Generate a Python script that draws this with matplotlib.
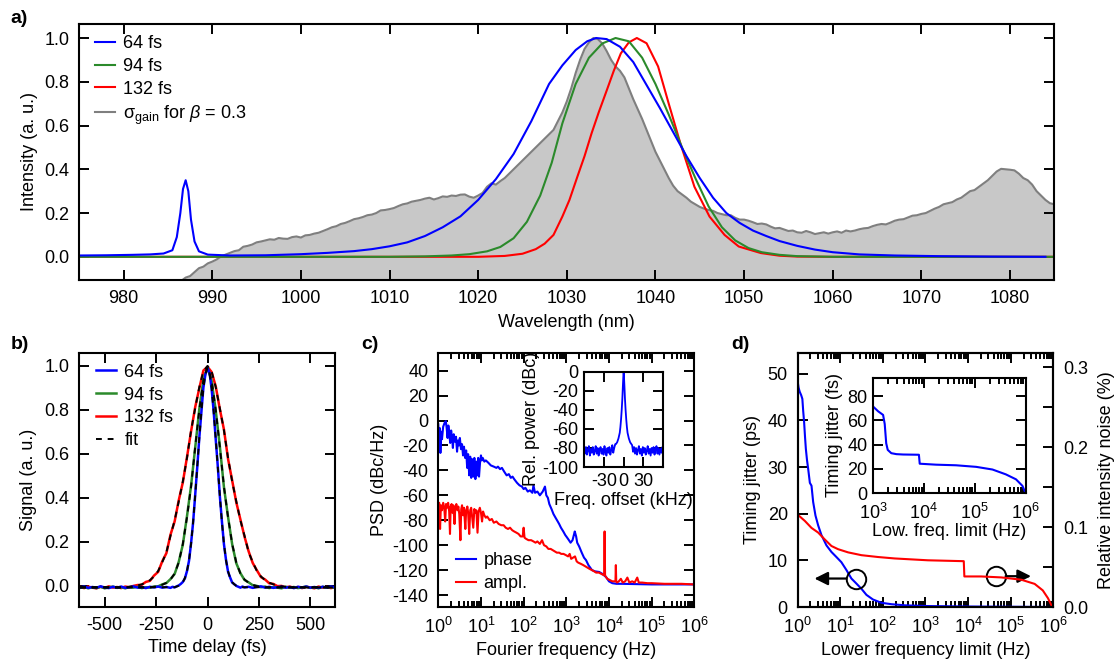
import numpy as np
import matplotlib
matplotlib.use("Agg")
import matplotlib.pyplot as plt
from matplotlib.ticker import MultipleLocator, LogLocator, NullFormatter, FixedLocator

plt.rcParams['font.family'] = ['Liberation Sans', 'DejaVu Sans']
plt.rcParams['mathtext.fontset'] = 'custom'
plt.rcParams['mathtext.rm'] = 'Liberation Sans'
plt.rcParams['mathtext.it'] = 'Liberation Sans:italic'
plt.rcParams['mathtext.bf'] = 'Liberation Sans:bold'
plt.rcParams['axes.unicode_minus'] = False

# ---------------- panel a data ----------------
# gain cross-section sampled every 0.5 nm from 986.5 nm to 1085 nm
gain_wl = [round(986.5 + 0.5 * i, 1) for i in range(198)]
gain_val = [-0.11, -0.095, -0.088, -0.07, -0.052, -0.045, -0.03, -0.022, -0.012, 0.002,
            0.01, 0.018, 0.026, 0.03, 0.046, 0.05, 0.056, 0.066, 0.07, 0.075,
            0.08, 0.078, 0.086, 0.083, 0.082, 0.09, 0.093, 0.088, 0.098, 0.1,
            0.106, 0.11, 0.118, 0.126, 0.135, 0.14, 0.15, 0.155, 0.163, 0.172,
            0.176, 0.182, 0.19, 0.193, 0.2, 0.212, 0.214, 0.218, 0.223, 0.232,
            0.24, 0.244, 0.252, 0.256, 0.26, 0.266, 0.27, 0.262, 0.268, 0.276,
            0.274, 0.28, 0.278, 0.284, 0.285, 0.275, 0.27, 0.28, 0.292, 0.32,
            0.336, 0.33, 0.346, 0.36, 0.38, 0.4, 0.42, 0.44, 0.46, 0.48,
            0.5, 0.52, 0.54, 0.56, 0.58, 0.62, 0.66, 0.71, 0.77, 0.84,
            0.9, 0.95, 0.98, 1.0, 0.995, 0.975, 0.94, 0.9, 0.87, 0.85,
            0.82, 0.77, 0.72, 0.675, 0.63, 0.58, 0.53, 0.48, 0.44, 0.4,
            0.36, 0.325, 0.3, 0.285, 0.27, 0.252, 0.24, 0.228, 0.22, 0.214,
            0.21, 0.2, 0.195, 0.19, 0.19, 0.178, 0.17, 0.17, 0.165, 0.158,
            0.15, 0.152, 0.148, 0.138, 0.13, 0.132, 0.125, 0.118, 0.12, 0.112,
            0.11, 0.118, 0.112, 0.104, 0.108, 0.112, 0.106, 0.112, 0.116, 0.11,
            0.12, 0.116, 0.12, 0.126, 0.13, 0.132, 0.14, 0.146, 0.15, 0.148,
            0.156, 0.165, 0.17, 0.172, 0.18, 0.188, 0.19, 0.196, 0.2, 0.21,
            0.22, 0.228, 0.24, 0.245, 0.25, 0.262, 0.27, 0.285, 0.3, 0.305,
            0.32, 0.335, 0.35, 0.37, 0.39, 0.402, 0.4, 0.398, 0.395, 0.38,
            0.36, 0.35, 0.33, 0.3, 0.28, 0.26, 0.245, 0.24]

s64_wl = [975, 978, 981, 983, 984.5, 985.5, 986.0, 986.4, 986.7, 987.0, 987.3, 987.6, 988.0,
          988.5, 989.5, 992, 996, 1000, 1003, 1006, 1008, 1010, 1012, 1014, 1016, 1018, 1020,
          1022, 1024, 1026, 1028, 1029.5, 1031, 1032.3, 1033.3, 1034.5, 1036, 1037.5, 1039,
          1040.5, 1042, 1043.5, 1045, 1046.5, 1048, 1049.5, 1051, 1052.5, 1054, 1056, 1058,
          1060, 1063, 1067, 1072, 1078, 1084]
s64_val = [0.006, 0.007, 0.009, 0.011, 0.015, 0.03, 0.09, 0.2, 0.31, 0.35, 0.3, 0.17, 0.07,
           0.025, 0.01, 0.006, 0.007, 0.012, 0.018, 0.026, 0.035, 0.048, 0.066, 0.095, 0.135,
           0.185, 0.26, 0.355, 0.47, 0.62, 0.79, 0.875, 0.945, 0.985, 1.0, 0.995, 0.96, 0.89,
           0.785, 0.68, 0.57, 0.46, 0.36, 0.27, 0.2, 0.155, 0.12, 0.095, 0.072, 0.05, 0.033,
           0.021, 0.011, 0.006, 0.003, 0.001, 0.0]

s94_wl = [975, 1010, 1014, 1017, 1019, 1021, 1022.5, 1024, 1025.5, 1027, 1028.3, 1029.5, 1031,
          1032.5, 1034, 1035.5, 1037, 1038.5, 1040, 1041.5, 1043, 1044.5, 1046, 1047.5, 1049,
          1050.5, 1052, 1054, 1056, 1060, 1085]
s94_val = [0.0, 0.0, 0.002, 0.006, 0.012, 0.025, 0.045, 0.085, 0.16, 0.28, 0.43, 0.61, 0.79,
           0.91, 0.975, 1.0, 0.985, 0.91, 0.79, 0.65, 0.5, 0.36, 0.23, 0.135, 0.075,
           0.04, 0.021, 0.009, 0.003, 0.0, 0.0]

s132_wl = [975, 1020, 1023, 1025, 1026.5, 1027.5, 1028.5, 1029.5, 1030.3, 1031.2, 1032, 1032.8,
           1033.6, 1034.5, 1035.3, 1036.1, 1037, 1037.9, 1039, 1040.3, 1041.5, 1042.8, 1044.4,
           1046.1, 1047.8, 1049.4, 1051.9, 1054, 1056, 1060, 1085]
s132_val = [0.0, 0.0, 0.004, 0.014, 0.035, 0.06, 0.1, 0.184, 0.26, 0.367, 0.46, 0.565,
            0.66, 0.76, 0.85, 0.93, 0.98, 1.0, 0.976, 0.87, 0.70, 0.52, 0.32,
            0.184, 0.10, 0.047, 0.017, 0.005, 0.001, 0.0, 0.0]

# ---------------- panel b data ----------------
ac132_t = list(range(-620, 621, 20))
ac132_v = [-0.006, -0.011, -0.004, -0.009, -0.012, -0.005, -0.01, -0.003, -0.009, -0.006, -0.011,
           -0.004, -0.007, -0.001, 0.003, 0.004, 0.017, 0.022, 0.046, 0.063, 0.111, 0.148, 0.232,
           0.292, 0.388, 0.47, 0.584, 0.702, 0.812, 0.898, 0.979, 0.996, 0.972, 0.907, 0.803,
           0.71, 0.576, 0.478, 0.379, 0.301, 0.223, 0.156, 0.103, 0.07, 0.039, 0.028, 0.011,
           0.008, -0.002, -0.001, -0.008, -0.004, -0.01, -0.006, -0.011, -0.005, -0.008, -0.012,
           -0.004, -0.009, -0.006, -0.011, -0.007]
ac94_t = list(range(-620, 621, 20))
ac94_v = [-0.01, -0.006, -0.012, -0.007, -0.011, -0.005, -0.012, -0.008, -0.004, -0.01, -0.007,
          -0.012, -0.006, -0.009, -0.005, -0.011, -0.007, -0.009, -0.004, -0.003, 0.006, 0.012,
          0.03, 0.053, 0.108, 0.187, 0.315, 0.455, 0.627, 0.803, 0.937, 0.993, 0.932, 0.797,
          0.634, 0.447, 0.312, 0.188, 0.102, 0.057, 0.026, 0.015, 0.002, -0.001, -0.007, -0.004,
          -0.011, -0.006, -0.009, -0.012, -0.005, -0.009, -0.006, -0.011, -0.008, -0.004, -0.01,
          -0.007, -0.012, -0.005, -0.009, -0.006, -0.01]
ac64_t = (list(range(-620, -179, 20)) + list(range(-170, 171, 10)) + list(range(180, 621, 20)))
ac64_v = [-0.008, -0.004, -0.01, -0.006, -0.009, -0.003, -0.008, -0.011, -0.005, -0.009, -0.004,
          -0.01, -0.007, -0.003, -0.009, -0.006, -0.011, -0.005, -0.008, -0.004, -0.009, -0.006,
          -0.01,
          -0.005, -0.008, -0.003, 0.001, 0.008, 0.017, 0.033, 0.066, 0.113, 0.193, 0.288, 0.412,
          0.538, 0.672, 0.788, 0.902, 0.962, 0.99, 0.968, 0.895, 0.793, 0.665, 0.543, 0.407,
          0.292, 0.188, 0.117, 0.063, 0.037, 0.014, 0.007, -0.001, -0.005, -0.009, -0.004,
          -0.008, -0.005, -0.01, -0.006, -0.003, -0.009, -0.005, -0.01, -0.007, -0.004, -0.009,
          -0.006, -0.011, -0.005, -0.008, -0.004, -0.009, -0.006, -0.01, -0.005, -0.008, -0.004,
          -0.007]

fit132_t = list(range(-620, 621, 20))
fit132_v = [-0.008, -0.008, -0.008, -0.008, -0.008, -0.008, -0.008, -0.008, -0.008, -0.008,
            -0.008, -0.007, -0.005, -0.003, 0.001, 0.006, 0.014, 0.025, 0.042, 0.067, 0.107,
            0.152, 0.227, 0.297, 0.383, 0.474, 0.58, 0.706, 0.807, 0.903, 0.975, 1.0, 0.975,
            0.903, 0.807, 0.706, 0.58, 0.474, 0.383, 0.297, 0.227, 0.152, 0.107, 0.067, 0.042,
            0.025, 0.014, 0.006, 0.001, -0.003, -0.005, -0.007, -0.008, -0.008, -0.008, -0.008,
            -0.008, -0.008, -0.008, -0.008, -0.008, -0.008, -0.008]
fit94_t = [-620, -300, -280, -260, -240, -220, -200, -180, -160, -140, -120, -100, -80, -60, -40,
           -20, 0, 20, 40, 60, 80, 100, 120, 140, 160, 180, 200, 220, 240, 260, 280, 300, 620]
fit94_v = [-0.008, -0.008, -0.008, -0.005, -0.002, 0.004, 0.013, 0.028, 0.055, 0.105, 0.19,
           0.31, 0.45, 0.63, 0.8, 0.935, 0.995, 0.935, 0.8, 0.63, 0.45, 0.31, 0.19, 0.105,
           0.055, 0.028, 0.013, 0.004, -0.002, -0.005, -0.008, -0.008, -0.008]
fit64_t = [-620, -170, -160, -150, -140, -130, -120, -110, -100, -90, -80, -70, -60, -50, -40,
           -30, -20, -10, 0, 10, 20, 30, 40, 50, 60, 70, 80, 90, 100, 110, 120, 130, 140, 150,
           160, 170, 620]
fit64_v = [-0.007, -0.007, -0.007, -0.004, 0.0, 0.006, 0.016, 0.035, 0.065, 0.115, 0.19, 0.29,
           0.41, 0.54, 0.67, 0.79, 0.9, 0.965, 0.99, 0.965, 0.9, 0.79, 0.67, 0.54, 0.41, 0.29,
           0.19, 0.115, 0.065, 0.035, 0.016, 0.006, 0.0, -0.004, -0.007, -0.007, -0.007]

# ---------------- panel c data ----------------
phase_f = [1.0, 1.04, 1.08, 1.12, 1.17, 1.22, 1.3, 1.4, 1.5, 1.57, 1.65, 1.72, 1.8, 1.9, 2.0,
           2.1, 2.2, 2.3, 2.45, 2.6, 2.75, 2.9, 3.05, 3.2, 3.4, 3.6, 3.8, 4.0, 4.25, 4.5, 4.75,
           5.0, 5.3, 5.6, 5.9, 6.2, 6.6, 7.0, 7.4, 7.8, 8.2, 8.6, 9.0, 9.5, 10, 10.5, 11, 12,
           13, 15, 17, 20, 23, 25, 28, 31, 35, 40, 45, 50, 55, 60, 70, 80, 91, 100, 110, 125,
           140, 160, 170, 185, 210, 240, 280, 316, 340, 370, 400, 450, 500, 560, 630, 680, 750,
           850, 950, 1000, 1100, 1260, 1400, 1500, 1580, 1700, 1800, 2000, 2300, 2600, 2900,
           3300, 4000, 4700, 5900, 7000, 8500, 10000, 12000, 15000, 20000, 1e5, 1e6]
phase_v = [-3, -20, -6, -26, -9, -15, -5, -2, -0.5, -6, -14, -4, -10, -18, -8,
           -14, -22, -11, -17, -13, -25, -16, -20, -14, -23, -19, -28, -21, -30, -24, -38,
           -27, -44, -29, -46, -31, -45, -30, -47, -33, -44, -30, -45, -34, -28, -32, -30, -33,
           -32, -34, -36, -37, -38, -37, -39, -38, -41, -44, -43, -46, -45, -47, -50, -52,
           -53, -55, -54, -57, -56, -58, -52, -58, -57, -60, -57, -53, -60, -62, -67, -71,
           -75, -78, -81, -83, -86, -89, -92, -93, -95, -98, -96, -92, -89, -93, -98, -101,
           -106, -110, -112, -116, -120, -121, -121.5, -123, -125.5, -129, -130.5, -131, -131,
           -131.5, -131.5]

ampl_f = [1.0, 1.05, 1.1, 1.15, 1.22, 1.3, 1.38, 1.45, 1.52, 1.6, 1.7, 1.8, 1.88, 1.95, 2.05,
          2.15, 2.25, 2.4, 2.5, 2.65, 2.8, 2.95, 3.1, 3.3, 3.45, 3.6, 3.8, 4.0, 4.3, 4.5, 4.8,
          5.0, 5.3, 5.6, 5.9, 6.2, 6.6, 7.0, 7.4, 7.8, 8.3, 8.8, 9.4, 10, 10.6, 11.2, 12, 13,
          14, 16, 18, 20, 23, 26, 30, 34, 38, 43, 48, 54, 60, 68, 76, 85, 95, 100, 105, 115,
          130, 150, 170, 190, 210, 240, 270, 300, 340, 380, 430, 480, 540, 600, 680, 760, 860,
          980, 1100, 1200, 1300, 1450, 1600, 1750, 1900, 2200, 2500, 2800, 3100, 3500, 4000,
          4500, 5000, 5800, 6600, 7500, 7700, 7900, 8100, 8300, 9200, 10500, 12000, 13500,
          14200, 14500, 14800, 15500, 17000, 19000, 21000, 24000, 27000, 30000, 35000, 40000,
          46000, 50000, 60000, 80000, 1e5, 2e5, 5e5, 1e6]
ampl_v = [-69, -66, -87, -68, -72, -66, -70, -81, -67, -70, -66, -73, -91, -69, -67,
          -74, -68, -83, -70, -67, -72, -69, -75, -96, -71, -68, -76, -70, -87, -72, -69,
          -74, -91, -72, -70, -77, -86, -71, -74, -72, -90, -73, -70, -74, -81, -73, -76, -78,
          -77, -80, -79, -82, -81, -83, -84, -84, -86, -87, -86, -88, -89, -90, -91, -93, -93,
          -86, -94, -95, -96, -96, -97, -98, -97, -99, -96, -100, -101, -103, -103, -104, -105,
          -106, -106, -107, -107, -108, -109, -107, -111, -110, -109, -113, -114, -115, -116,
          -117, -118, -119, -120, -121, -122, -122, -123, -124, -124, -89, -124, -125, -127,
          -128, -129, -129, -129, -116, -129, -130, -129, -127, -130, -129, -126, -130, -129,
          -130, -126, -130, -130, -130.5, -130.5, -131, -131, -131.5]

beat_f = [-61, -59.5, -58, -56.5, -55, -53.5, -52, -50.5, -49, -47.5, -46, -44.5, -43, -41.5,
          -40, -38.5, -37, -35.5, -34, -32.5, -31, -29.5, -28, -26.5, -25, -23.5, -22, -20.5,
          -19, -17.5, -16, -14.5, -13, -12, -10, -8, -6, -5, -4, -3, -2, -1.2, -0.5, 0, 0.5,
          1.2, 2, 3, 4, 5, 6, 8, 10, 12, 13, 14.5, 16, 17.5, 19, 20.5, 22, 23.5, 25, 26.5, 28,
          29.5, 31, 32.5, 34, 35.5, 37, 38.5, 40, 41.5, 43, 44.5, 46, 47.5, 49, 50.5, 52, 53.5,
          55, 56.5, 58, 59.5, 61]
beat_v = [-80, -86, -79, -87, -82, -78, -88, -81, -85, -79, -87, -83, -78, -86, -80, -88, -82,
          -79, -86, -81, -87, -78, -84, -88, -80, -85, -79, -87, -82, -77, -85, -80, -76, -76,
          -74, -70, -64, -58, -50, -40, -28, -15, -5, 0, -5, -15, -28, -40, -50, -58, -64, -70,
          -74, -76, -77, -84, -79, -86, -80, -87, -82, -78, -86, -81, -88, -79, -85, -80, -87,
          -83, -78, -86, -81, -88, -80, -85, -79, -87, -82, -78, -86, -80, -87, -81, -85, -79,
          -86]

# ---------------- panel d data ----------------
tj_f = [1.0, 1.06, 1.13, 1.22, 1.3, 1.36, 1.43, 1.5, 1.57, 1.67, 1.78, 1.95, 2.13, 2.33, 2.64,
        3.05, 3.65, 4.78, 6.25, 8.2, 10.7, 14.1, 18.4, 24.2, 31.6, 41.4, 59, 93, 160, 330,
        1150, 1e4, 1e5, 1e6]
tj_ps = [48.6, 47.0, 46.1, 45.4, 44.6, 42.0, 39.6, 36.5, 33.9, 31.5, 29.6, 26.6, 26.0, 22.5,
         19.6, 17.5, 15.4, 13.2, 11.8, 10.7, 9.6, 7.9, 6.1, 5.0, 3.9, 2.6, 1.6, 0.9, 0.6, 0.36,
         0.2, 0.1, 0.05, 0.0]
rin_f = [1.0, 1.49, 2.13, 3.05, 4.37, 6.25, 8.95, 15.4, 31.6, 77.6, 191, 1150, 7940, 8200,
         20400, 60000, 178000, 365000, 566000, 750000, 900000, 1e6]
rin_pct = [0.1157, 0.1076, 0.0989, 0.0931, 0.0844, 0.0763, 0.0723, 0.0683, 0.0648, 0.0625,
           0.0607, 0.0584, 0.0573, 0.0382, 0.0382, 0.037, 0.0341, 0.0289, 0.0208, 0.011,
           0.0023, 0.0]
tjin_f = [1000, 1260, 1580, 1700, 1820, 1950, 2290, 2880, 3900, 8000, 8300, 17400, 43000,
          107000, 224000, 410000, 650000, 870000, 1e6]
tjin_fs = [71.5, 67.5, 64.5, 57, 41, 35.6, 32.9, 32.1, 31.8, 31.6, 24.2, 23.4, 22.9, 21.6,
           19.4, 15.4, 11.3, 5.9, 0.0]

# markers (circle + arrow) in panel d: (frequency, ps)
circ_left = (23, 6.1)
circ_right = (46000, 6.6)
arrow_left = ((14, 6.1), (2.5, 6.1))
arrow_right = ((76000, 6.6), (300000, 6.6))

BLUE = '#0000ff'
GREEN = '#2b8a2b'
RED = '#ff0000'
GRAYL = '#7f7f7f'
GRAYF = '#c8c8c8'

W, H = 1117, 661
fig = plt.figure(figsize=(W / 100, H / 100), dpi=100)


def axpx(l, t, r, b):
    return fig.add_axes([l / W, 1 - b / H, (r - l) / W, (b - t) / H])


FS = 13


def style(ax, top=True, right=True):
    ax.tick_params(direction='in', which='both', top=top, right=right, width=1.4,
                   labelsize=FS, pad=7)
    ax.tick_params(which='major', length=7.5)
    ax.tick_params(which='minor', length=4.5)
    for s in ax.spines.values():
        s.set_linewidth(1.5)


LEG = dict(frameon=False, fontsize=FS, handlelength=1.1, handletextpad=0.45,
           labelspacing=0.32, borderaxespad=0.0)

# ---------------- panel a ----------------
axa = axpx(79.3, 24, 1054.3, 280)
axa.fill_between(gain_wl, gain_val, -0.3, color=GRAYF, lw=0)
axa.plot(gain_wl, gain_val, color=GRAYL, lw=1.5, label=r'σ$_{\mathregular{gain}}$ for $\mathit{β}$ = 0.3')
axa.plot(s132_wl, s132_val, color=RED, lw=1.5, label='132 fs')
axa.plot(s94_wl, s94_val, color=GREEN, lw=1.5, label='94 fs')
axa.plot(s64_wl, s64_val, color=BLUE, lw=1.5, label='64 fs')
axa.set_xlim(975, 1085)
axa.set_ylim(-0.106, 1.064)
axa.xaxis.set_major_locator(MultipleLocator(10))
axa.yaxis.set_major_locator(MultipleLocator(0.2))
axa.yaxis.set_major_formatter(matplotlib.ticker.FormatStrFormatter('%.1f'))
style(axa)
axa.set_xlabel('Wavelength (nm)', fontsize=FS, labelpad=5)
axa.set_ylabel('Intensity (a. u.)', fontsize=FS, labelpad=5)
h, l = axa.get_legend_handles_labels()
order = [3, 2, 1, 0]
axa.legend([h[i] for i in order], [l[i] for i in order], loc='upper left',
           bbox_to_anchor=(0.009, 0.985), **LEG)

# ---------------- panel b ----------------
axb = axpx(79, 352.7, 335, 607)
axb.plot(ac132_t, ac132_v, color=RED, lw=1.8, label='132 fs')
axb.plot(ac94_t, ac94_v, color=GREEN, lw=1.8, label='94 fs')
axb.plot(ac64_t, ac64_v, color=BLUE, lw=1.8, label='64 fs')
axb.plot(fit132_t, fit132_v, color='k', lw=1.4, dashes=(3, 3), label='fit')
axb.plot(fit94_t, fit94_v, color='k', lw=1.4, dashes=(3, 3))
axb.plot(fit64_t, fit64_v, color='k', lw=1.4, dashes=(3, 3))
axb.set_xlim(-625, 620)
axb.set_ylim(-0.097, 1.06)
axb.set_xticks([-500, -250, 0, 250, 500])
axb.yaxis.set_major_locator(MultipleLocator(0.2))
axb.yaxis.set_major_formatter(matplotlib.ticker.FormatStrFormatter('%.1f'))
style(axb)
axb.set_xlabel('Time delay (fs)', fontsize=FS, labelpad=4)
axb.set_ylabel('Signal (a. u.)', fontsize=FS, labelpad=5)
h, l = axb.get_legend_handles_labels()
order = [2, 1, 0, 3]
axb.legend([h[i] for i in order], [l[i] for i in order], loc='upper left',
           bbox_to_anchor=(0.04, 0.985), **LEG)

# ---------------- panel c ----------------
axc = axpx(438.3, 352.7, 694.3, 607)
axc.plot(phase_f, phase_v, color=BLUE, lw=1.5, label='phase')
axc.plot(ampl_f, ampl_v, color=RED, lw=1.5, label='ampl.')
axc.set_xscale('log')
axc.set_xlim(1, 1e6)
axc.set_ylim(-149.6, 54.4)
axc.yaxis.set_major_locator(FixedLocator(list(range(-140, 41, 20))))
axc.xaxis.set_major_locator(LogLocator(base=10, numticks=20))
axc.xaxis.set_minor_locator(LogLocator(base=10, subs=np.arange(2, 10), numticks=100))
axc.xaxis.set_minor_formatter(NullFormatter())
style(axc)
axc.set_xlabel('Fourier frequency (Hz)', fontsize=FS, labelpad=4)
axc.set_ylabel('PSD (dBc/Hz)', fontsize=FS, labelpad=3)
axc.legend(loc='lower left', bbox_to_anchor=(0.04, 0.03), **LEG)

axci = axpx(584, 371.5, 663.3, 467)
axci.plot(beat_f, beat_v, color=BLUE, lw=1.3)
axci.set_xlim(-61, 61)
axci.set_ylim(-100, 0.5)
axci.set_xticks([-30, 0, 30])
axci.set_yticks([-100, -80, -60, -40, -20, 0])
style(axci)
axci.tick_params(pad=4)
axci.set_xlabel('Freq. offset (kHz)', fontsize=FS, labelpad=2)
axci.set_ylabel('Rel. power (dBc)', fontsize=FS, labelpad=2)

# ---------------- panel d ----------------
axd = axpx(797.5, 352.7, 1053.3, 607)
axd.plot(tj_f, tj_ps, color=BLUE, lw=1.5)
axd.set_xscale('log')
axd.set_xlim(1, 1e6)
axd.set_ylim(0, 54.5)
axd.yaxis.set_major_locator(MultipleLocator(10))
axd.xaxis.set_major_locator(LogLocator(base=10, numticks=20))
axd.xaxis.set_minor_locator(LogLocator(base=10, subs=np.arange(2, 10), numticks=100))
axd.xaxis.set_minor_formatter(NullFormatter())
style(axd, right=False)
axd.set_xlabel('Lower frequency limit (Hz)', fontsize=FS, labelpad=4)
axd.set_ylabel('Timing jitter (ps)', fontsize=FS, labelpad=5)
axd2 = axd.twinx()
axd2.plot(rin_f, rin_pct, color=RED, lw=1.5)
axd2.set_ylim(0, 0.318)
axd2.yaxis.set_major_locator(MultipleLocator(0.1))
axd2.yaxis.set_minor_locator(MultipleLocator(0.05))
axd2.yaxis.set_major_formatter(matplotlib.ticker.FormatStrFormatter('%.1f'))
axd2.tick_params(direction='in', which='both', right=True, left=False, width=1.4,
                 length=7.5, labelsize=FS, pad=7)
for s in axd2.spines.values():
    s.set_linewidth(1.5)
axd2.set_ylabel('Relative intensity noise (%)', fontsize=FS, labelpad=7)

for c in (circ_left, circ_right):
    axd.plot([c[0]], [c[1]], marker='o', ms=14, mfc='none', mec='k', mew=1.4, zorder=5)
for a in (arrow_left, arrow_right):
    axd.annotate('', xy=a[1], xytext=a[0],
                 arrowprops=dict(arrowstyle='-|>', mutation_scale=20, lw=1.6, color='k',
                                 shrinkA=0, shrinkB=0), zorder=5)

axdi = axpx(873, 378, 1025.5, 493)
axdi.set_facecolor('white')
axdi.plot(tjin_f, tjin_fs, color=BLUE, lw=1.5)
axdi.set_xscale('log')
axdi.set_xlim(1e3, 1e6)
axdi.set_ylim(0, 95)
axdi.yaxis.set_major_locator(MultipleLocator(20))
axdi.xaxis.set_major_locator(LogLocator(base=10, numticks=20))
axdi.xaxis.set_minor_locator(LogLocator(base=10, subs=np.arange(2, 10), numticks=100))
axdi.xaxis.set_minor_formatter(NullFormatter())
style(axdi)
axdi.tick_params(axis='y', pad=4)
axdi.tick_params(axis='x', pad=7)
axdi.set_xlabel('Low. freq. limit (Hz)', fontsize=FS, labelpad=0)
axdi.set_ylabel('Timing jitter (fs)', fontsize=FS, labelpad=3)

# ---------------- panel labels ----------------
for txt, x, y in [('a)', 10, 10), ('b)', 11, 336), ('c)', 361, 336), ('d)', 731, 336)]:
    fig.text(x / W, 1 - y / H, txt, fontsize=14, fontweight='bold', va='top', ha='left')

fig.savefig('out.png', dpi=100)
